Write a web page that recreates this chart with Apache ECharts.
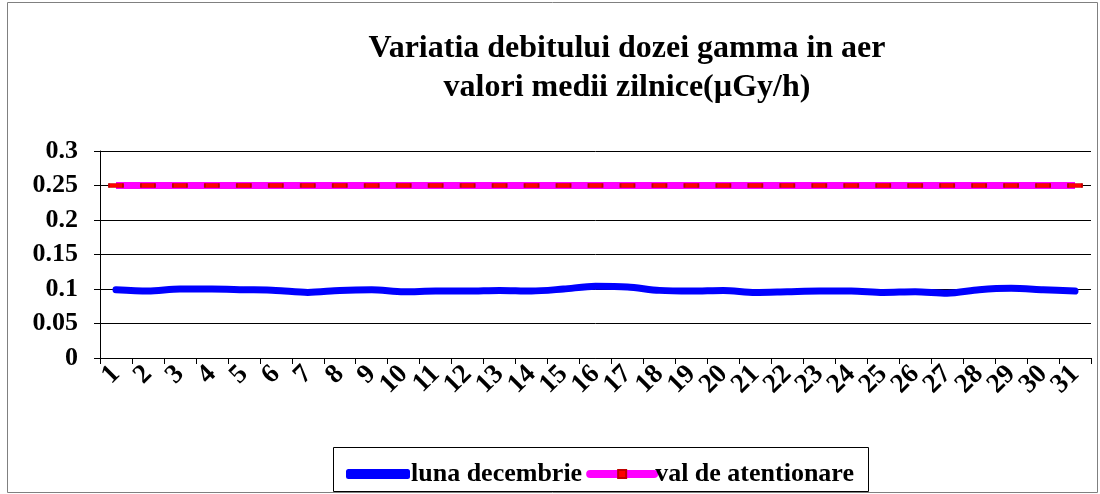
<!DOCTYPE html>
<html>
<head>
<meta charset="utf-8">
<script src="https://cdn.jsdelivr.net/npm/echarts@6/dist/echarts.min.js"></script>
<style>
  html, body { margin: 0; padding: 0; background: #fff; }
  #chart { width: 1100px; height: 494px; }
</style>
</head>
<body>
<div id="chart"></div>
<script>
// zilele lunii
var days = []
for (var d = 1; d <= 31; d++) days.push(String(d))

// valori medii zilnice (µGy/h)
var lunaDecembrie = [0.099, 0.097, 0.100, 0.100, 0.099, 0.098, 0.095, 0.098, 0.099, 0.096,
  0.097, 0.097, 0.098, 0.097, 0.100, 0.104, 0.103, 0.098, 0.097, 0.098,
  0.095, 0.096, 0.097, 0.097, 0.095, 0.096, 0.094, 0.099, 0.101, 0.099, 0.097]

// pragul de atentionare
var valAtentionare = [0.25, 0.25, 0.25, 0.25, 0.25, 0.25, 0.25, 0.25, 0.25, 0.25,
  0.25, 0.25, 0.25, 0.25, 0.25, 0.25, 0.25, 0.25, 0.25, 0.25,
  0.25, 0.25, 0.25, 0.25, 0.25, 0.25, 0.25, 0.25, 0.25, 0.25, 0.25]

var font = '"Liberation Serif", "Times New Roman", serif'

var chart = echarts.init(document.getElementById('chart'))
chart.setOption({
  animation: false,
  title: {
    text: 'Variatia debitului dozei gamma in aer\nvalori medii zilnice(µGy/h)',
    left: 622,
    top: 24,
    textAlign: 'center',
    textStyle: {
      fontFamily: font,
      fontWeight: 'bold',
      fontSize: 32,
      lineHeight: 39,
      color: '#000'
    }
  },
  graphic: [
    {
      type: 'rect',
      shape: { x: 7.5, y: 2.5, width: 1090, height: 490 },
      style: { fill: 'none', stroke: '#808080', lineWidth: 1 },
      silent: true
    },
    {
      type: 'rect',
      shape: { x: 333.5, y: 447.5, width: 535, height: 44 },
      style: { fill: 'none', stroke: '#000', lineWidth: 1 },
      silent: true
    }
  ],
  legend: {
    left: 341,
    top: 456,
    itemGap: 4,
    itemWidth: 64,
    itemHeight: 10,
    lineStyle: { width: 8, cap: 'round' },
    textStyle: {
      fontFamily: font,
      fontWeight: 'bold',
      fontSize: 26,
      color: '#000',
      padding: [0, 0, 0, -4]
    },
    data: [
      { name: 'luna decembrie', icon: 'roundRect', itemStyle: { color: '#0000ff' } },
      { name: 'val de atentionare' }
    ]
  },
  grid: {
    left: 100,
    right: 9,
    top: 151,
    bottom: 136
  },
  xAxis: {
    type: 'category',
    data: days,
    boundaryGap: true,
    axisLine: { lineStyle: { color: '#000', width: 1 } },
    axisTick: { show: true, length: 6, alignWithLabel: false, lineStyle: { color: '#000' } },
    axisLabel: {
      interval: 0,
      rotate: 45,
      margin: 12,
      fontFamily: font,
      fontWeight: 'bold',
      fontSize: 27,
      color: '#000'
    }
  },
  yAxis: {
    type: 'value',
    min: 0,
    max: 0.3,
    interval: 0.05,
    axisLine: { show: true, lineStyle: { color: '#000', width: 1 } },
    axisTick: { show: true, length: 6, inside: false, lineStyle: { color: '#000' } },
    splitLine: { show: true, lineStyle: { color: '#000', width: 1 } },
    axisLabel: {
      margin: 22,
      fontFamily: font,
      fontWeight: 'bold',
      fontSize: 26,
      color: '#000',
      formatter: function (v) { return String(Math.round(v * 100) / 100) }
    }
  },
  series: [
    {
      name: 'luna decembrie',
      type: 'line',
      data: lunaDecembrie,
      smooth: 0.3,
      showSymbol: false,
      symbol: 'none',
      lineStyle: { color: '#0000ff', width: 7, cap: 'round' },
      itemStyle: { color: '#0000ff' }
    },
    {
      name: 'val de atentionare',
      type: 'line',
      data: valAtentionare,
      symbol: 'rect',
      symbolSize: [14, 4],
      lineStyle: { color: '#ff00ff', width: 7 },
      itemStyle: { color: '#ff0000', borderColor: '#c00000', borderWidth: 1 }
    }
  ]
})
</script>
</body>
</html>
